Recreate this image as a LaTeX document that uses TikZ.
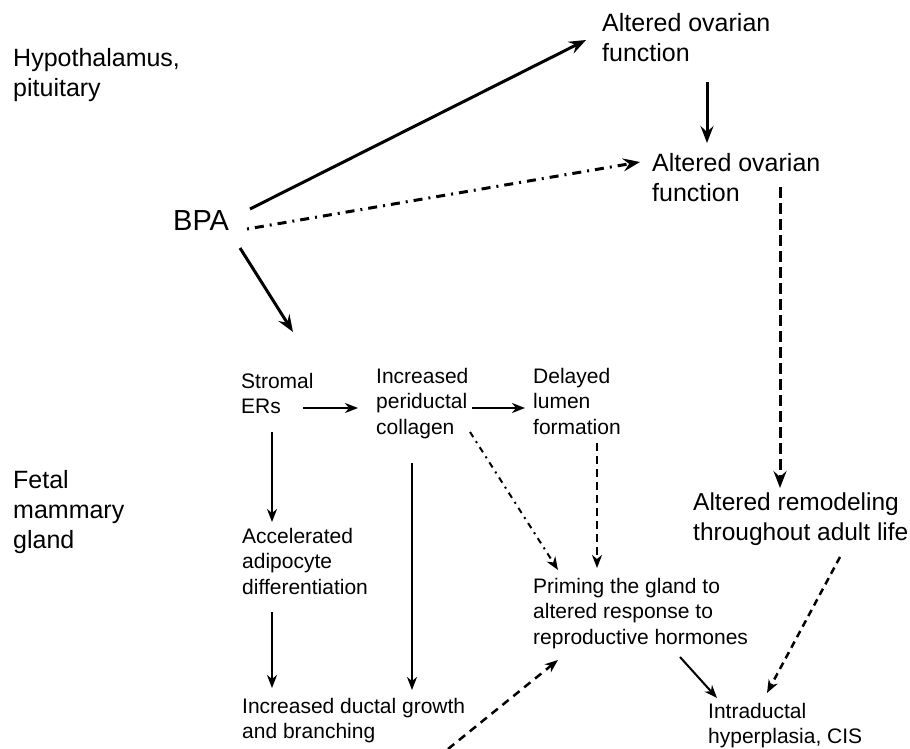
\documentclass[tikz,border=0pt]{standalone}
\usepackage{fontspec}
\setmainfont{Liberation Sans}
\usetikzlibrary{arrows.meta,calc}

\begin{document}
\begin{tikzpicture}[x=1pt,y=-1pt,
    bigtext/.style={font=\fontsize{25}{30}\selectfont, anchor=north west, inner sep=0pt, align=left},
    smalltext/.style={font=\fontsize{21}{25.5}\selectfont, anchor=north west, inner sep=0pt, align=left},
    thickarrow/.style={line width=3pt, -{Stealth[length=17pt,width=13pt,inset=6pt]}},
    thinarrow/.style={line width=2pt, -{Stealth[length=13pt,width=10pt,inset=4pt]}}]
  \useasboundingbox (0,0) rectangle (910,749);

  % tissue labels
  \node[bigtext] (hypo) at (13,48) {Hypothalamus,\\pituitary};
  \node[bigtext] (fetal) at (13,470) {Fetal\\mammary\\gland};

  % top part
  \node[bigtext, font=\fontsize{29}{34}\selectfont] (bpa) at (173,210) {BPA};
  \node[bigtext] (ovary1) at (602,13) {Altered ovarian\\function};
  \node[bigtext] (ovary2) at (652,153) {Altered ovarian\\function};
  \node[bigtext, font=\fontsize{24.5}{30}\selectfont] (remodel) at (693,493) {Altered remodeling\\throughout adult life};

  % gland
  \node[smalltext] (stromal) at (241,373) {Stromal\\ERs};
  \node[smalltext] (collagen) at (376,368) {Increased\\periductal\\collagen};
  \node[smalltext] (lumen) at (533,368) {Delayed\\lumen\\formation};
  \node[smalltext] (adipo) at (242,528) {Accelerated\\adipocyte\\differentiation};
  \node[smalltext] (ductal) at (242,698) {Increased ductal growth\\and branching};
  \node[smalltext] (priming) at (533,578) {Priming the gland to\\altered response to\\reproductive hormones};
  \node[smalltext] (cis) at (708,703) {Intraductal\\hyperplasia, CIS};
  \coordinate (below) at (448,749);

  \draw[thickarrow] ($(bpa.north west)+(77,-1)$) -- ($(ovary1.north west)+(-16,27)$);
  \draw[thickarrow] ($(ovary1.north west)+(105,69)$) -- ($(ovary2.north west)+(55,-10)$);
  \draw[thickarrow, dash pattern=on 2pt off 6pt on 9pt off 6pt] ($(bpa.north west)+(74,19)$) -- ($(ovary2.north west)+(-12,9)$);
  \draw[thickarrow, dash pattern=on 11pt off 5pt] ($(ovary2.north west)+(128,34)$) -- ($(remodel.north west)+(87,-5)$);
  \draw[thickarrow] ($(bpa.north west)+(67,38)$) -- ($(stromal.north west)+(52,-41)$);

  \draw[thinarrow] ($(stromal.north west)+(62,35)$) -- ($(collagen.north west)+(-18,40)$);
  \draw[thinarrow] ($(collagen.north west)+(96,40)$) -- ($(lumen.north west)+(-8,40)$);
  \draw[thinarrow] ($(stromal.north west)+(31,59)$) -- ($(adipo.north west)+(30,-6)$);
  \draw[thinarrow] ($(adipo.north west)+(30,84)$) -- ($(ductal.north west)+(30,-10)$);
  \draw[thinarrow] ($(collagen.north west)+(36,95)$) -- ($(ductal.north west)+(170,-8)$);
  \draw[thinarrow, dash pattern=on 6pt off 5pt on 2pt off 5pt] ($(collagen.north west)+(94,64)$) -- ($(priming.north west)+(25,-8)$);
  \draw[thinarrow, dash pattern=on 8pt off 5pt] ($(lumen.north west)+(64,75)$) -- ($(priming.north west)+(64,-10)$);
  \draw[thinarrow, line width=2.5pt, dash pattern=on 8pt off 6pt] (below) -- ($(priming.north west)+(25,82)$);
  \draw[thinarrow] ($(priming.north west)+(147,79)$) -- ($(cis.north west)+(9,-5)$);
  \draw[thinarrow, line width=2.5pt, dash pattern=on 7pt off 5pt] ($(remodel.north west)+(147,64)$) -- ($(cis.north west)+(59,-10)$);
\end{tikzpicture}
\end{document}
